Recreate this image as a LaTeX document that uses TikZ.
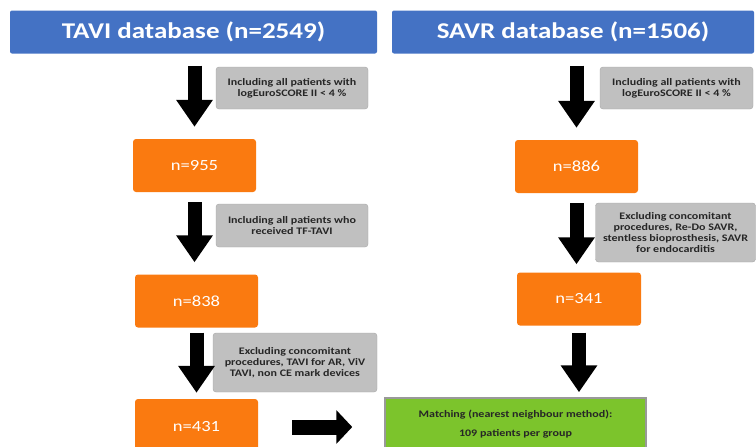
\documentclass[tikz,border=0pt]{standalone}
\usepackage{fontspec}
\setmainfont{Carlito}[FakeStretch=1.2]
\usetikzlibrary{arrows.meta}
\definecolor{headblue}{RGB}{68,114,196}
\definecolor{countorange}{RGB}{250,122,16}
\definecolor{notegray}{RGB}{192,192,192}
\definecolor{matchgreen}{RGB}{124,196,44}
\tikzset{head node/.style={rectangle,fill=headblue,rounded corners=2pt,minimum height=43pt,
		text=white,font=\fontsize{22.5}{26}\selectfont\bfseries},
	count node/.style={rectangle,fill=countorange,rounded corners=3pt,minimum width=123pt,
		minimum height=53pt,text=white,font=\fontsize{15.5}{18}\selectfont},
	note node/.style={rectangle,fill=notegray,draw=gray!70,rounded corners=3pt,align=center,
		inner sep=2pt,text=black!85,font=\fontsize{10}{11}\selectfont\bfseries},
	match node/.style={rectangle,fill=matchgreen,draw=gray!80,line width=1.5pt,align=center,
		text=black!85,font=\fontsize{10}{19}\selectfont\bfseries},
	big arrow/.style={line width=14pt,-{Triangle[width=35pt,length=27pt]},shorten <=12pt,shorten >=12pt},
}

\begin{document}
\begin{tikzpicture}[x=1pt,y=-1pt]
	\useasboundingbox (0,0) rectangle (756,447);
	\clip (0,0) rectangle (756,447);
	
	\node[head node,minimum width=367pt] (tavi) at (193.5,32) {TAVI database (n=2549)};
	\node[head node,minimum width=362pt] (savr) at (573,32) {SAVR database (n=1506)};
	
	\node[count node] (n955) at (194.5,165.5) {n=955};
	\node[count node] (n838) at (196.5,301) {n=838};
	\node[count node,minimum height=56pt] (n431) at (196.5,427) {n=431};
	\node[count node] (n886) at (576.5,166.5) {n=886};
	\node[count node,minimum width=124pt] (n341) at (579,299) {n=341};
	\node[match node,minimum width=261pt,minimum height=52pt] (match) at (515.5,424)
		{Matching (nearest neighbour method):\\109 patients per group};
	
	\node[note node,minimum width=152pt,minimum height=42pt] (tl1) at (292,88)
		{Including all patients with\\logEuroSCORE II < 4 \%};
	\node[note node,minimum width=152pt,minimum height=43pt] (tl2) at (292,225.5)
		{Including all patients who\\received TF-TAVI};
	\node[note node,minimum width=164pt,minimum height=59pt] (tl3) at (295,362.5)
		{Excluding concomitant\\procedures, TAVI for AR, ViV\\TAVI, non CE mark devices};
	\node[note node,minimum width=153pt,minimum height=42pt] (sr1) at (676.5,88)
		{Including all patients with\\logEuroSCORE II < 4 \%};
	\node[note node,minimum width=160pt,minimum height=59pt] (sr2) at (675.5,232.5)
		{Excluding concomitant\\procedures, Re-Do SAVR,\\stentless bioprosthesis, SAVR\\for endocarditis};
	
	% TAVI side
	\draw[big arrow] (tavi.south -| n955.north) -- (n955.north);
	\draw[big arrow,shorten <=10pt] (n955.south) -- (n955.south |- n838.north);
	\draw[big arrow,shorten <=5pt,shorten >=6pt] (n838.south) -- (n838.south |- n431.north);
	% SAVR side
	\draw[big arrow] (savr.south -| n886.north) -- (n886.north);
	\draw[big arrow,shorten <=10pt,shorten >=8pt] (n886.south) -- (n886.south |- n341.north);
	\draw[big arrow,shorten <=7pt,shorten >=5pt] (n341.south) -- (n341.south |- match.north);
	% to matching
	\draw[line width=15pt,-{Triangle[width=33pt,length=16pt]},shorten <=34pt,shorten >=32pt]
		(n431.east) -- (n431.east -| match.west);
\end{tikzpicture}
\end{document}
